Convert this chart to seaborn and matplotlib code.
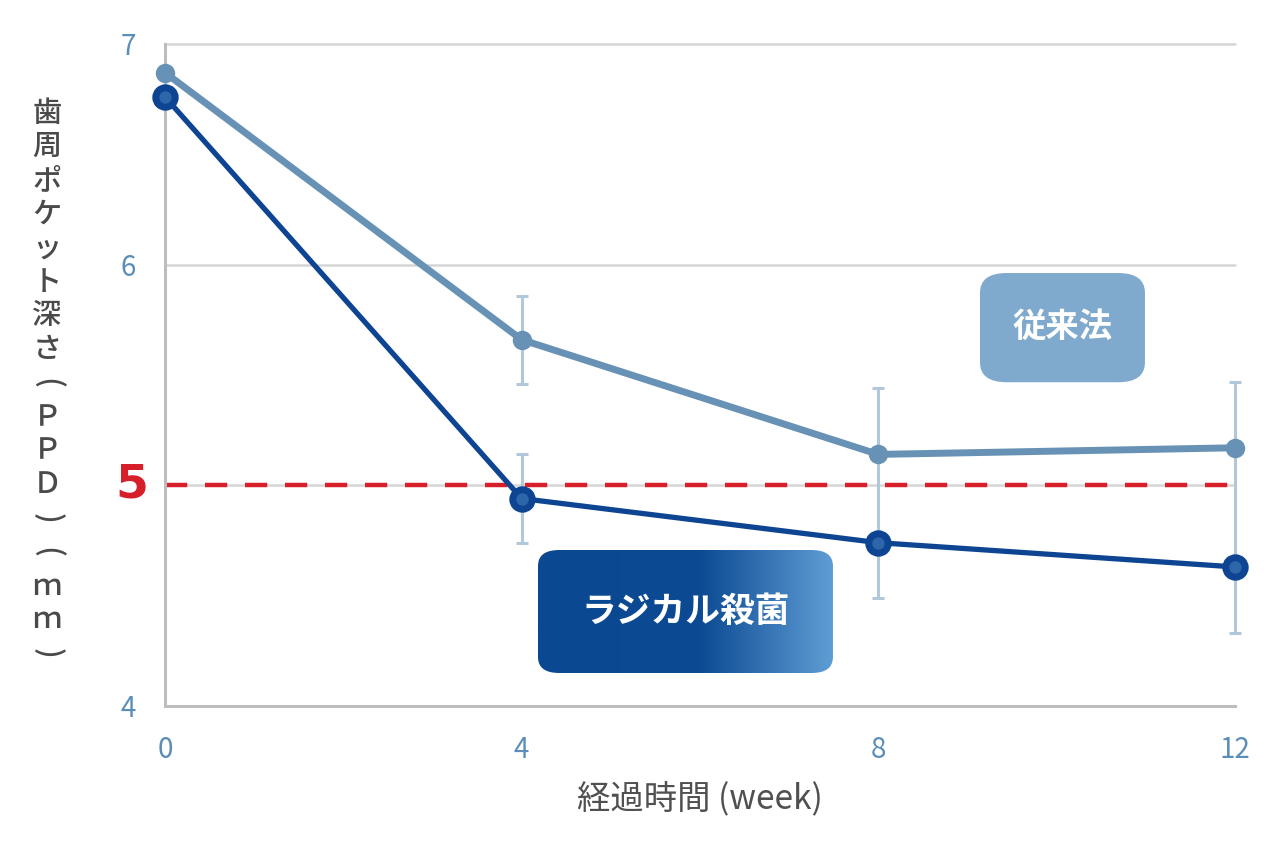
import numpy as np
import pandas as pd
import seaborn as sns
import matplotlib.pyplot as plt
from matplotlib.patches import FancyBboxPatch
from matplotlib.colors import LinearSegmentedColormap

# values
weeks = [0, 4, 8, 12]
conventional = [6.87, 5.66, 5.14, 5.17]
conventional_err = [0.0, 0.2, 0.3, 0.3]
radical = [6.76, 4.94, 4.74, 4.63]
radical_err = [0.0, 0.2, 0.25, 0.3]
threshold = 5
yticks = [4, 5, 6, 7]

label_conv = "従来法"
label_rad = "ラジカル殺菌"
xlabel = "経過時間 (week)"
ylabel_chars = ["歯", "周", "ポ", "ケ", "ッ", "ト", "深", "さ",
                "(", "Ｐ", "Ｐ", "Ｄ", ")", "(", "ｍ", "ｍ", ")"]

sns.set_style("white")
plt.rcParams['font.family'] = ['Noto Sans CJK JP', 'DejaVu Sans']

conv_col = "#6891b6"
rad_col = "#0d4592"
err_col = "#b3c7db"
tick_col = "#5a8db8"

df = pd.DataFrame({"week": weeks, "conv": conventional, "rad": radical,
                   "conv_err": conventional_err, "rad_err": radical_err})

fig = plt.figure(figsize=(12.8, 8.52), dpi=100)
ax = fig.add_axes([0.1289, 0.1714, 0.8359, 0.777])

# grid lines + threshold
for v in [5, 6, 7]:
    ax.axhline(v, color="#d6d6d6", lw=1.8, zorder=0)
ax.axhline(threshold, color="#d71f2b", lw=3.2, dashes=(5, 4), zorder=1)

# error bars: where the two ranges overlap they are shown as one bar
for _, row in df[df["week"] > 0].iterrows():
    ranges = [(row.conv - row.conv_err, row.conv + row.conv_err),
              (row.rad - row.rad_err, row.rad + row.rad_err)]
    ranges.sort()
    merged = [list(ranges[0])]
    for lo, hi in ranges[1:]:
        if lo <= merged[-1][1]:
            merged[-1][1] = max(merged[-1][1], hi)
        else:
            merged.append([lo, hi])
    for lo, hi in merged:
        ax.errorbar(row.week, (lo + hi) / 2, yerr=(hi - lo) / 2, fmt="none",
                    ecolor=err_col, elinewidth=2.2, capsize=4.5, capthick=2.2,
                    zorder=2, clip_on=False)

sns.lineplot(data=df, x="week", y="conv", ax=ax, color=conv_col, linewidth=5,
             marker="o", markersize=14, markeredgewidth=0, zorder=3)
sns.lineplot(data=df, x="week", y="rad", ax=ax, color=rad_col, linewidth=3.8,
             marker="o", markersize=14, markerfacecolor="#2e66aa",
             markeredgecolor=rad_col, markeredgewidth=5, zorder=4)
for ln in ax.get_lines():
    ln.set_clip_on(False)

ax.set_xlim(0, 12)
ax.set_ylim(4, 7)
ax.set_xticks(weeks)
ax.set_xticklabels([str(w) for w in weeks])
ax.set_yticks(yticks)
ax.set_yticklabels([str(t) if t != threshold else "" for t in yticks])
ax.tick_params(axis="both", colors="#b5b5b5", labelcolor=tick_col, labelsize=20,
               length=7, width=1.8)
ax.tick_params(axis="x", pad=14)
ax.tick_params(axis="y", pad=14)
ax.text(-0.016, threshold, str(threshold), transform=ax.get_yaxis_transform(),
        ha="right", va="center", color="#d71f2b", fontsize=34, fontweight="bold",
        family="DejaVu Sans")

for s in ["top", "right"]:
    ax.spines[s].set_visible(False)
for s in ["left", "bottom"]:
    ax.spines[s].set_color("#bdbdbd")
    ax.spines[s].set_linewidth(2.2)

ax.set_xlabel(xlabel, fontsize=24, color="#505050", labelpad=12)
ax.set_ylabel("")

# vertical (tategaki) y label, one character per row; brackets turned sideways
pitch = 33.8
top = 113
for i, ch in enumerate(ylabel_chars):
    rot = -90 if ch in "()" else 0
    fig.text(47 / 1280, 1 - (top + i * pitch) / 852, ch, ha="center", va="center",
             rotation=rot, fontsize=22 if rot else 21, color="#4a4a4a",
             fontweight="medium", rotation_mode="anchor")

# label boxes
box1 = FancyBboxPatch((0.7617, 0.489), 0.1542, 0.165, transform=ax.transAxes,
                      boxstyle="round,pad=0,rounding_size=0.025",
                      facecolor="#80aacd", edgecolor="none", zorder=5,
                      mutation_aspect=1.2)
ax.add_patch(box1)
ax.text(0.7617 + 0.1542 / 2, 0.489 + 0.165 / 2, label_conv, transform=ax.transAxes,
        ha="center", va="center", color="white", fontsize=24, fontweight="bold",
        zorder=6)

bx, by, bw, bh = 0.3486, 0.0498, 0.2757, 0.1858
box2 = FancyBboxPatch((bx, by), bw, bh, transform=ax.transAxes,
                      boxstyle="round,pad=0,rounding_size=0.02",
                      facecolor="none", edgecolor="none", zorder=5,
                      mutation_aspect=1.2)
ax.add_patch(box2)
cmap = LinearSegmentedColormap.from_list(
    "grad", [(0, "#0a4891"), (0.55, "#0c4a93"), (1, "#5e9dd4")])
grad = np.linspace(0, 1, 256).reshape(1, -1)
im = ax.imshow(grad, cmap=cmap, aspect="auto", extent=(bx, bx + bw, by, by + bh),
               transform=ax.transAxes, zorder=5)
im.set_clip_path(box2)
ax.text(bx + bw / 2, by + bh / 2, label_rad, transform=ax.transAxes,
        ha="center", va="center", color="white", fontsize=25, fontweight="bold",
        zorder=6)

fig.savefig("out.png", dpi=100)
